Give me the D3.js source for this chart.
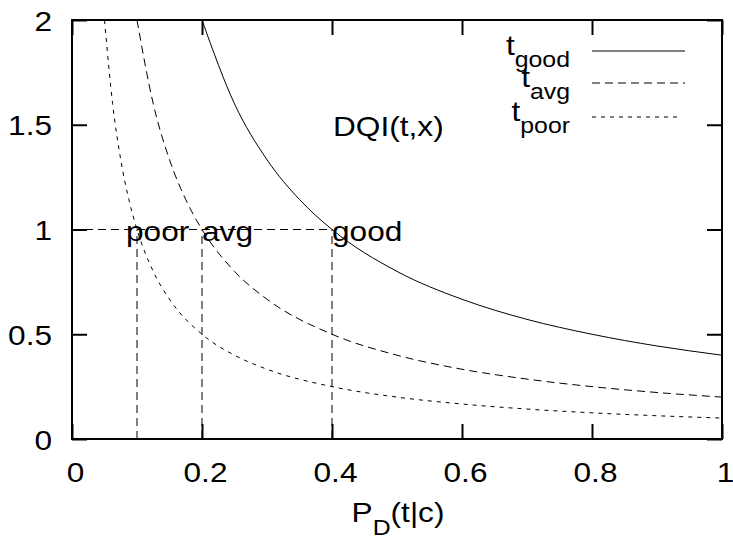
<!DOCTYPE html>
<html>
<head>
<meta charset="utf-8">
<script src="https://cdn.jsdelivr.net/npm/d3@7"></script>
<style>
  body { margin: 0; background: #fff; }
  text { font-family: "Liberation Sans", Arial, sans-serif; fill: #000; }
</style>
</head>
<body>
<svg id="chart" width="733" height="539"></svg>
<script>
// values
const goodX = [0.2, 0.25, 0.3, 0.35, 0.4, 0.5, 0.6, 0.7, 0.8, 0.9, 1.0]
const goodY = [2, 1.6, 1.333, 1.143, 1, 0.8, 0.667, 0.571, 0.5, 0.444, 0.4]
const avgX = [0.1, 0.125, 0.15, 0.175, 0.2, 0.25, 0.3, 0.4, 0.5, 0.6, 0.7, 0.8, 0.9, 1.0]
const avgY = [2, 1.6, 1.333, 1.143, 1, 0.8, 0.667, 0.5, 0.4, 0.333, 0.286, 0.25, 0.222, 0.2]
const poorX = [0.05, 0.0625, 0.075, 0.0875, 0.1, 0.125, 0.15, 0.2, 0.25, 0.3, 0.4, 0.5, 0.6, 0.7, 0.8, 0.9, 1.0]
const poorY = [2, 1.6, 1.333, 1.143, 1, 0.8, 0.667, 0.5, 0.4, 0.333, 0.25, 0.2, 0.167, 0.143, 0.125, 0.111, 0.1]
const thresholds = [0.1, 0.2, 0.4]
const thresholdLabels = ["poor", "avg", "good"]
const xTicks = [0, 0.2, 0.4, 0.6, 0.8, 1]
const yTicks = [0, 0.5, 1, 1.5, 2]

const svg = d3.select("#chart")
const pLeft = 72, pRight = 722, pTop = 20, pBottom = 439
const fs = 28, sx = 1.13   // gnuplot text is a bit wider than Arial

const x = d3.scaleLinear().domain([0, 1]).range([pLeft, pRight])
const y = d3.scaleLinear().domain([0, 2]).range([pBottom, pTop])

const series = [
  { name: "good", xs: goodX, ys: goodY, dash: null },
  { name: "avg", xs: avgX, ys: avgY, dash: "8,5" },
  { name: "poor", xs: poorX, ys: poorY, dash: "4,5" }
]

// text placed at (px,py) with horizontal stretch
function label(px, py, anchor) {
  return svg.append("g").attr("transform", `translate(${px},${py}) scale(${sx},1)`)
    .append("text").attr("text-anchor", anchor || "start").style("font-size", fs + "px")
}

const line = d3.line().x(d => x(d[0])).y(d => y(d[1])).curve(d3.curveMonotoneX)

// threshold guides
svg.append("line")
  .attr("x1", x(0)).attr("x2", x(d3.max(thresholds)))
  .attr("y1", y(1)).attr("y2", y(1))
  .attr("stroke", "#000").attr("stroke-width", 1).attr("stroke-dasharray", "8,5")
svg.selectAll(".vguide").data(thresholds).enter().append("line")
  .attr("x1", d => x(d)).attr("x2", d => x(d))
  .attr("y1", y(0)).attr("y2", y(1))
  .attr("stroke", "#000").attr("stroke-width", 1).attr("stroke-dasharray", "8,5")

// curves
svg.selectAll(".curve").data(series).enter().append("path")
  .attr("d", s => line(s.xs.map((v, i) => [v, s.ys[i]])))
  .attr("fill", "none").attr("stroke", "#000").attr("stroke-width", 1)
  .attr("stroke-dasharray", s => s.dash)

// axes (gnuplot-style inward ticks on all sides)
const tk = 15
const gx = svg.append("g").attr("transform", `translate(0,${pBottom})`)
  .call(d3.axisBottom(x).tickValues(xTicks).tickSizeInner(-tk).tickSizeOuter(0).tickFormat(d3.format("")))
gx.selectAll(".tick text").attr("y", 43).attr("dy", 0).attr("x", 3 / sx)
svg.append("g").attr("transform", `translate(0,${pTop})`)
  .call(d3.axisTop(x).tickValues(xTicks).tickSizeInner(-tk).tickSizeOuter(0).tickFormat(""))
const gy = svg.append("g").attr("transform", `translate(${pLeft},0)`)
  .call(d3.axisLeft(y).tickValues(yTicks).tickSizeInner(-tk).tickSizeOuter(0).tickFormat(d3.format("")))
gy.selectAll(".tick text").attr("x", -20 / sx).attr("dy", 0).attr("y", 10)
svg.append("g").attr("transform", `translate(${pRight},0)`)
  .call(d3.axisRight(y).tickValues(yTicks).tickSizeInner(-tk).tickSizeOuter(0).tickFormat(""))

svg.selectAll(".domain").remove()
svg.selectAll(".tick line").attr("stroke", "#000").attr("stroke-width", 2)
svg.selectAll(".tick text")
  .attr("transform", `scale(${sx},1)`)
  .style("font-size", fs + "px").style("font-family", "'Liberation Sans', Arial, sans-serif").attr("fill", "#000")

svg.append("rect")
  .attr("x", pLeft).attr("y", pTop).attr("width", pRight - pLeft).attr("height", pBottom - pTop)
  .attr("fill", "none").attr("stroke", "#000").attr("stroke-width", 2)

// threshold labels
thresholds.forEach((d, i) => {
  label(d === 0.1 ? x(d) - 11 : x(d), y(1) + 11).text(thresholdLabels[i])
})

label(333, 136).text("DQI(t,x)")

// legend
series.forEach((s, i) => {
  const ly = [51, 83, 117][i]
  const t = label(570, ly + 4, "end")
  t.append("tspan").text("t")
  t.append("tspan").attr("dy", 12).style("font-size", "22px").text(s.name)
  svg.append("line").attr("x1", 592).attr("x2", s.name === "poor" ? 679 : 685).attr("y1", ly).attr("y2", ly)
    .attr("stroke", "#000").attr("stroke-width", 1).attr("stroke-dasharray", s.dash)
})

// x title
const xt = label(398, 522, "middle")
xt.append("tspan").text("P")
xt.append("tspan").attr("dy", 13).style("font-size", "22px").text("D")
xt.append("tspan").attr("dy", -13).text("(t|c)")
</script>
</body>
</html>
